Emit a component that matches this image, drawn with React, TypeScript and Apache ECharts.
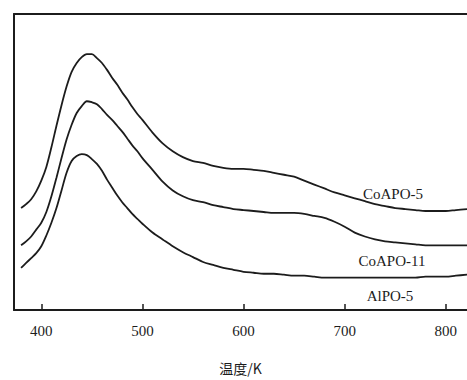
import React, { useEffect, useRef } from "react";
import * as echarts from "echarts";

// Temperature (K) readings, 5 K apart up to 500 K, then 10 K apart
const temps: number[] = [
  380, 385, 390, 395, 400, 405, 410, 415, 420, 425, 430, 435, 440, 445, 450,
  455, 460, 465, 470, 475, 480, 485, 490, 495, 500, 510, 520, 530, 540, 550,
  560, 570, 580, 590, 600, 610, 620, 630, 640, 650, 660, 670, 680, 690, 700,
  710, 720, 730, 740, 750, 760, 770, 780, 790, 800, 810, 821,
];

// Signal (arbitrary units), one value per temperature
const coapo5: number[] = [
  104, 108, 113, 121, 132, 146, 166, 188, 209, 228, 243, 252, 258, 261, 261,
  257, 252, 245, 237, 230, 222, 215, 207, 200, 194, 181, 170, 162, 156, 152,
  150, 147, 145, 144, 144, 143, 142, 140, 138, 136, 132, 128, 124, 120, 117,
  114, 111, 108, 106, 104, 103, 102, 101, 101, 101, 102, 103,
];

const coapo11: number[] = [
  66, 70, 75, 82, 89, 100, 116, 135, 155, 174, 189, 201, 208, 213, 212,
  210, 205, 199, 194, 188, 182, 175, 168, 162, 155, 143, 131, 122, 116, 112,
  110, 107, 105, 103, 102, 101, 100, 99, 99, 99, 98, 96, 94, 90, 85,
  79, 75, 72, 70, 69, 68, 67, 66, 66, 66, 66, 66,
];

const alpo5: number[] = [
  43, 48, 53, 58, 65, 76, 89, 104, 122, 140, 152, 157, 159, 158, 154,
  149, 142, 133, 125, 117, 110, 104, 98, 93, 88, 79, 72, 65, 59, 54,
  49, 46, 43, 41, 39, 38, 37, 37, 36, 35, 35, 34, 33, 33, 33,
  33, 33, 33, 33, 33, 33, 33, 34, 34, 34, 35, 36,
];

const seriesNames = ["CoAPO-5", "CoAPO-11", "AlPO-5"];
const xTicks = [400, 500, 600, 700, 800];
const xName = "温度/K";

const INK = "#1c1c1c";
const SERIF = "'Liberation Serif', 'DejaVu Serif', serif";

export default function App() {
  const ref = useRef<HTMLDivElement>(null);

  useEffect(() => {
    document.body.style.margin = "0";
    if (!ref.current) return;
    const chart = echarts.init(ref.current, undefined, { renderer: "svg" });

    const lineSeries = (name: string, values: number[]) => ({
      name,
      type: "line",
      data: temps.map((t, i) => [t, values[i]]),
      smooth: 0.3,
      showSymbol: false,
      symbol: "none",
      lineStyle: { color: INK, width: 1.8 },
      xAxisIndex: 0,
      yAxisIndex: 0,
    });

    const label = (text: string, x: number, y: number) => ({
      type: "text",
      x,
      y,
      style: {
        text,
        font: `15px ${SERIF}`,
        fill: INK,
        textAlign: "center",
        textVerticalAlign: "middle",
      },
    });

    chart.setOption({
      animation: false,
      backgroundColor: "#ffffff",
      grid: { left: 14, top: 14, right: 0, bottom: 64 },
      xAxis: [
        {
          type: "value",
          min: 373,
          max: 821,
          position: "bottom",
          name: xName,
          nameLocation: "middle",
          nameGap: 51,
          nameTextStyle: {
            fontFamily: "'Noto Sans CJK SC', sans-serif",
            fontSize: 14,
            color: INK,
          },
          axisLine: { show: true, lineStyle: { color: INK, width: 2 } },
          axisTick: {
            show: true,
            inside: true,
            length: 6,
            customValues: xTicks,
            lineStyle: { color: INK, width: 1.5 },
          },
          axisLabel: {
            show: true,
            customValues: xTicks,
            margin: 13,
            fontFamily: SERIF,
            fontSize: 15,
            color: INK,
          },
          splitLine: { show: false },
        },
        {
          type: "value",
          min: 373,
          max: 821,
          position: "top",
          axisLine: { show: true, lineStyle: { color: INK, width: 2 } },
          axisTick: { show: false },
          axisLabel: { show: false },
          splitLine: { show: false },
        },
      ],
      yAxis: {
        type: "value",
        min: 0,
        max: 302,
        axisLine: { show: true, lineStyle: { color: INK, width: 2 } },
        axisTick: { show: false },
        axisLabel: { show: false },
        splitLine: { show: false },
      },
      graphic: [
        label(seriesNames[0], 393, 194),
        label(seriesNames[1], 392, 261),
        label(seriesNames[2], 390, 296),
      ],
      series: [
        lineSeries(seriesNames[0], coapo5),
        lineSeries(seriesNames[1], coapo11),
        lineSeries(seriesNames[2], alpo5),
      ],
    });

    return () => chart.dispose();
  }, []);

  return <div ref={ref} style={{ width: 467, height: 380 }} />;
}
